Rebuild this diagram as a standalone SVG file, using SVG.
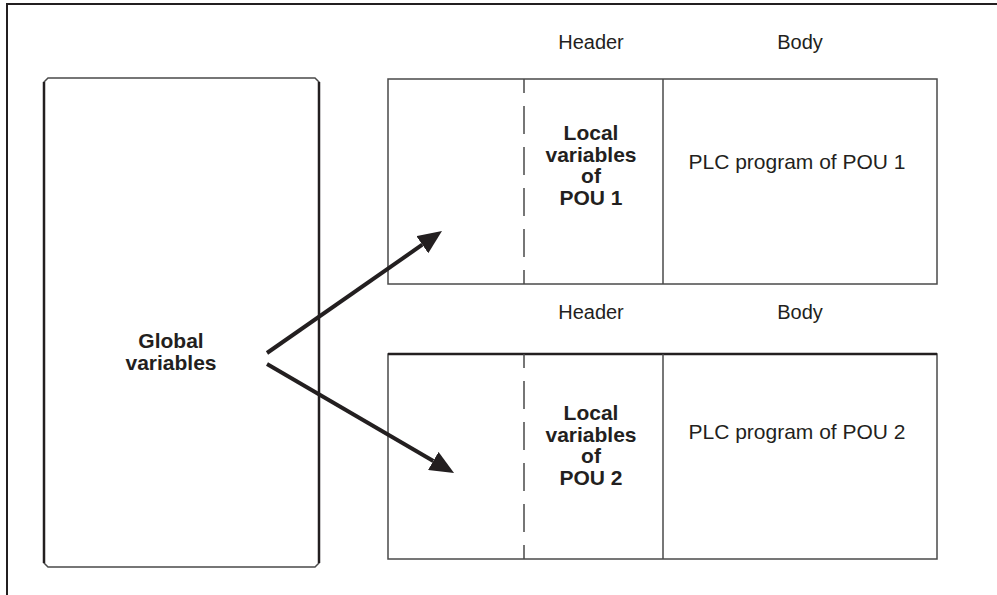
<svg xmlns="http://www.w3.org/2000/svg" width="997" height="595" viewBox="0 0 997 595">
<style>
text{font-family:"Liberation Sans",Arial,sans-serif;fill:#231f20}
.lbl{font-size:20px;text-anchor:middle}
.big{font-size:21px;text-anchor:middle}
.b{font-size:21px;font-weight:bold;text-anchor:middle}
.box{fill:none;stroke:#4a4a4a;stroke-width:1.5}
.dash{stroke:#4a4a4a;stroke-width:1.5;stroke-dasharray:28 13;stroke-dashoffset:14}
.arrow{stroke:#231f20;stroke-width:4;fill:none}
</style>
<defs>
<marker id="ah" markerWidth="6" markerHeight="5.2" refX="0" refY="2.6" orient="auto" markerUnits="strokeWidth">
<path d="M0,0 L6,2.6 L0,5.2 Z" fill="#231f20"/>
</marker>
</defs>
<rect width="997" height="595" fill="#fff"/>
<g id="frame">
<path d="M7,595 L7,4 L997,4" fill="none" stroke="#231f20" stroke-width="2"/>
</g>
<g id="global">
<path d="M48,78 L315,78 L319,82 L319,563 L315,567 L48,567 L44,563 L44,82 Z" class="box"/>
<line x1="44" y1="82" x2="44" y2="563" stroke="#231f20" stroke-width="2.5"/>
<line x1="319" y1="82" x2="319" y2="563" stroke="#231f20" stroke-width="2.5"/>
<text class="b" x="171" y="348">Global</text>
<text class="b" x="171" y="370">variables</text>
</g>
<g id="pou1">
<text class="lbl" x="591" y="49">Header</text>
<text class="lbl" x="800" y="49">Body</text>
<rect class="box" x="388" y="79" width="549" height="205"/>
<line class="dash" x1="524" y1="79" x2="524" y2="284"/>
<line x1="663" y1="79" x2="663" y2="284" stroke="#4a4a4a" stroke-width="1.5"/>
<text class="b" x="591" y="140">Local</text>
<text class="b" x="591" y="162">variables</text>
<text class="b" x="591" y="183">of</text>
<text class="b" x="591" y="205">POU 1</text>
<text class="big" x="797" y="169">PLC program of POU 1</text>
</g>
<g id="pou2">
<text class="lbl" x="591" y="319">Header</text>
<text class="lbl" x="800" y="319">Body</text>
<rect class="box" x="388" y="354" width="549" height="205"/>
<line x1="388" y1="354" x2="937" y2="354" stroke="#231f20" stroke-width="2.5"/>
<line class="dash" x1="524" y1="354" x2="524" y2="559"/>
<line x1="663" y1="354" x2="663" y2="559" stroke="#4a4a4a" stroke-width="1.5"/>
<text class="b" x="591" y="420">Local</text>
<text class="b" x="591" y="442">variables</text>
<text class="b" x="591" y="463">of</text>
<text class="b" x="591" y="485">POU 2</text>
<text class="big" x="797" y="439">PLC program of POU 2</text>
</g>
<g id="connectors">
<line class="arrow" x1="267" y1="353" x2="422.3" y2="244.7" marker-end="url(#ah)"/>
<line class="arrow" x1="267" y1="364" x2="433.3" y2="460.9" marker-end="url(#ah)"/>
</g>
</svg>
